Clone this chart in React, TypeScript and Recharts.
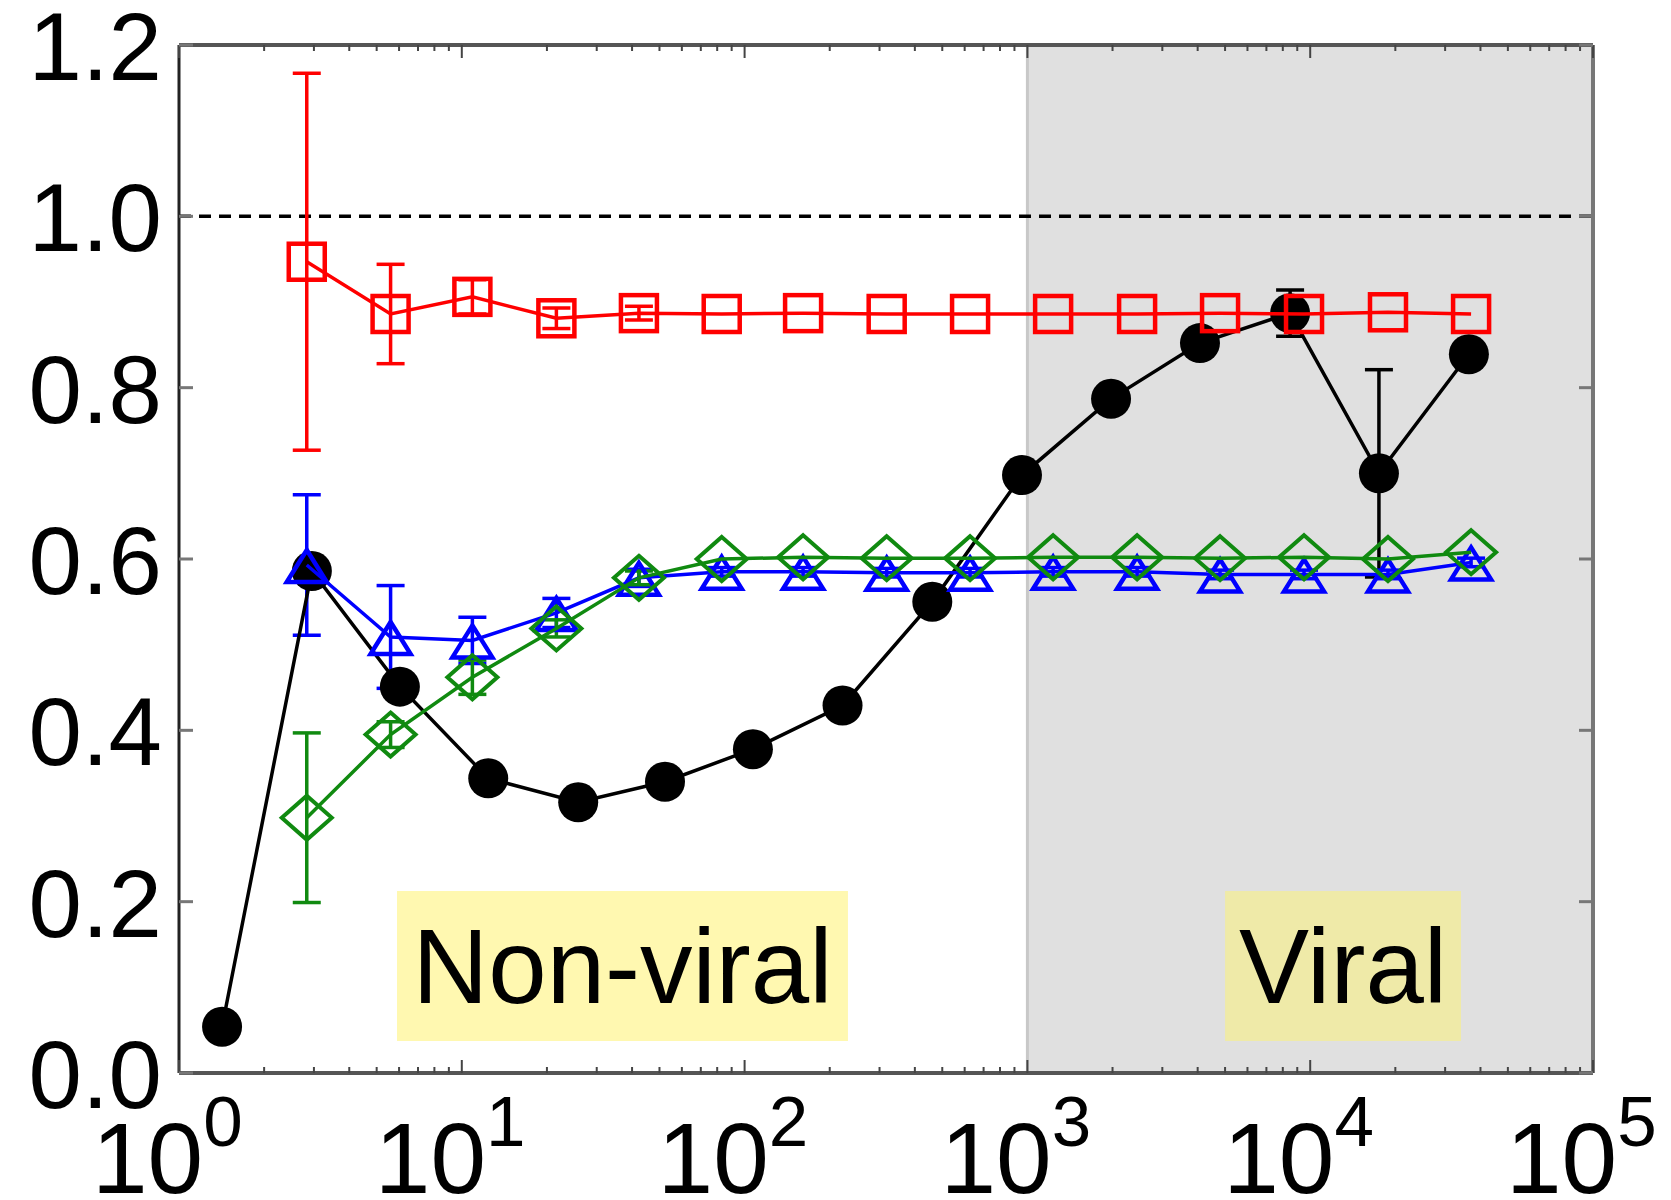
import React from 'react';
import {
  ComposedChart,
  Scatter,
  XAxis,
  YAxis,
  ErrorBar,
  ReferenceArea,
  ReferenceLine,
} from 'recharts';

// ---- data ----
const blackX = [1.42, 2.95, 6.04, 12.4, 25.8, 52.3, 107, 222, 461, 957, 1976, 4076, 8490, 17500, 36400];
const blackY = [0.054, 0.586, 0.451, 0.344, 0.316, 0.340, 0.378, 0.429, 0.550, 0.698, 0.787, 0.852, 0.887, 0.700, 0.839];
const blackErr = [0, 0, 0, 0, 0, 0, 0, 0, 0, 0, 0, 0, 0.027, 0.121, 0];

const colX = [2.83, 5.6, 10.9, 21.6, 42.3, 83, 161, 318, 627, 1233, 2443, 4800, 9510, 18840, 37060];
const redY = [0.947, 0.886, 0.906, 0.881, 0.887, 0.886, 0.887, 0.886, 0.886, 0.886, 0.886, 0.887, 0.886, 0.888, 0.886];
const redErr = [0.22, 0.058, 0.02, 0.012, 0.008, 0, 0, 0, 0, 0, 0, 0, 0, 0, 0];
const blueY = [0.593, 0.509, 0.505, 0.537, 0.578, 0.585, 0.585, 0.584, 0.584, 0.585, 0.585, 0.582, 0.582, 0.582, 0.596];
const blueErr = [0.082, 0.06, 0.027, 0.017, 0.01, 0.005, 0.005, 0.005, 0.005, 0.005, 0.005, 0.005, 0.005, 0.005, 0.005];
const greenY = [0.298, 0.395, 0.462, 0.519, 0.578, 0.600, 0.602, 0.601, 0.601, 0.602, 0.602, 0.601, 0.602, 0.600, 0.608];
const greenErr = [0.099, 0.015, 0.02, 0.01, 0.008, 0, 0, 0, 0, 0, 0, 0, 0, 0, 0];

const xMajorTicks = [1, 10, 100, 1000, 10000, 100000];
const xTickExponents = ['0', '1', '2', '3', '4', '5'];
const xMinorMultipliers = [2, 3, 4, 5, 6, 7, 8, 9];
const yTicks = [0, 0.2, 0.4, 0.6, 0.8, 1.0, 1.2];
const yTickLabels = ['0.0', '0.2', '0.4', '0.6', '0.8', '1.0', '1.2'];

const regionLabels = [
  { text: 'Non-viral', x1: 5.9, x2: 232, y1: 0.0374, y2: 0.2124, fill: '#FFF8B0' },
  { text: 'Viral', x1: 5000, x2: 34140, y1: 0.0374, y2: 0.2124, fill: '#EFEAA8' },
];

const xAllTicks: number[] = [];
xMajorTicks.forEach((m, i) => {
  xAllTicks.push(m);
  if (i < xMajorTicks.length - 1) xMinorMultipliers.forEach((k) => xAllTicks.push(m * k));
});

const toPoints = (xs: number[], ys: number[], es: number[]) =>
  xs.map((x, i) => ({ x, y: ys[i], e: es[i] }));

const blackData = toPoints(blackX, blackY, blackErr);
const redData = toPoints(colX, redY, redErr);
const blueData = toPoints(colX, blueY, blueErr);
const greenData = toPoints(colX, greenY, greenErr);

const FONT = '"Liberation Sans", Arial, Helvetica, sans-serif';

// ---- ticks ----
const BottomTick = (props: any) => {
  const { x, y, payload } = props;
  const idx = xMajorTicks.indexOf(payload.value);
  const major = idx >= 0;
  return (
    <g>
      <line x1={x} x2={x} y1={y} y2={y - (major ? 13 : 6)} stroke="#444" strokeWidth={2} />
      {major && (
        <text x={x - 87} y={y + 120} fontSize={100} fontFamily={FONT} fill="#000" textAnchor="start">
          10
          <tspan dy={-47} fontSize={71}>
            {xTickExponents[idx]}
          </tspan>
        </text>
      )}
    </g>
  );
};

const TopTick = (props: any) => {
  const { x, y, payload } = props;
  const major = xMajorTicks.indexOf(payload.value) >= 0;
  return <line x1={x} x2={x} y1={y} y2={y + (major ? 13 : 6)} stroke="#444" strokeWidth={2} />;
};

const LeftTick = (props: any) => {
  const { x, y, payload } = props;
  const idx = yTicks.indexOf(payload.value);
  return (
    <g>
      <line x1={x} x2={x + 14} y1={y} y2={y} stroke="#777" strokeWidth={3} />
      <text x={x - 17} y={y + 35} fontSize={96} fontFamily={FONT} fill="#000" textAnchor="end">
        {yTickLabels[idx]}
      </text>
    </g>
  );
};

const RightTick = (props: any) => {
  const { x, y } = props;
  return <line x1={x} x2={x - 14} y1={y} y2={y} stroke="#777" strokeWidth={3} />;
};

// ---- markers ----
const Circle = (p: any) => <circle cx={p.cx} cy={p.cy} r={20} fill="#000" />;
const Square = (p: any) => (
  <rect x={p.cx - 18} y={p.cy - 18} width={36} height={36} fill="none" stroke="#ff0000" strokeWidth={4.5} />
);
const Triangle = (p: any) => (
  <polygon
    points={`${p.cx},${p.cy - 15} ${p.cx + 20},${p.cy + 17} ${p.cx - 20},${p.cy + 17}`}
    fill="none"
    stroke="#0000ff"
    strokeWidth={4.5}
  />
);
const Diamond = (p: any) => (
  <polygon
    points={`${p.cx},${p.cy - 22} ${p.cx + 25},${p.cy} ${p.cx},${p.cy + 22} ${p.cx - 25},${p.cy}`}
    fill="none"
    stroke="#108a10"
    strokeWidth={4}
  />
);
const NoShape = () => null;

export default function App() {
  return (
    <div style={{ position: 'absolute', left: 0, top: 0, background: '#fff' }}>
      <ComposedChart width={1671} height={1200} margin={{ top: 44, right: 77, left: 0, bottom: 0 }}>
        <ReferenceArea x1={1000} x2={100000} y1={0} y2={1.2} fill="#e0e0e0" fillOpacity={1} stroke="none" />
        <ReferenceLine x={1000} stroke="#c8c8c8" strokeWidth={3} />
        {regionLabels.map((r) => (
          <ReferenceArea
            key={r.text}
            x1={r.x1}
            x2={r.x2}
            y1={r.y1}
            y2={r.y2}
            fill={r.fill}
            fillOpacity={1}
            stroke="none"
            label={{ value: r.text, position: 'center', fontSize: 105, fill: '#000', fontFamily: FONT }}
          />
        ))}
        <ReferenceLine y={1} stroke="#000" strokeWidth={3.5} strokeDasharray="12 8" />

        <XAxis
          type="number"
          dataKey="x"
          scale="log"
          domain={[1, 100000]}
          allowDataOverflow
          ticks={xAllTicks}
          interval={0}
          tick={<BottomTick />}
          tickLine={false}
          tickSize={0}
          tickMargin={0}
          height={127}
          axisLine={{ stroke: '#555', strokeWidth: 4 }}
        />
        <XAxis
          xAxisId="top"
          orientation="top"
          type="number"
          dataKey="x"
          scale="log"
          domain={[1, 100000]}
          allowDataOverflow
          ticks={xAllTicks}
          interval={0}
          tick={<TopTick />}
          tickLine={false}
          tickSize={0}
          tickMargin={0}
          height={1}
          axisLine={{ stroke: '#555', strokeWidth: 4 }}
        />
        <YAxis
          type="number"
          dataKey="y"
          domain={[0, 1.2]}
          allowDataOverflow
          ticks={yTicks}
          interval={0}
          tick={<LeftTick />}
          tickLine={false}
          tickSize={0}
          tickMargin={0}
          width={179}
          axisLine={{ stroke: '#222', strokeWidth: 3 }}
        />
        <YAxis
          yAxisId="right"
          orientation="right"
          type="number"
          dataKey="y"
          domain={[0, 1.2]}
          allowDataOverflow
          ticks={yTicks}
          interval={0}
          tick={<RightTick />}
          tickLine={false}
          tickSize={0}
          tickMargin={0}
          width={1}
          axisLine={{ stroke: '#777', strokeWidth: 4 }}
        />

        <Scatter
          data={redData}
          xAxisId="top"
          yAxisId="right"
          isAnimationActive={false}
          shape={NoShape}
          legendType="none"
        />

        <Scatter data={blackData} isAnimationActive={false} line={{ stroke: '#000', strokeWidth: 3.5 }} shape={Circle}>
          <ErrorBar dataKey="e" direction="y" width={14} stroke="#000" strokeWidth={3.5} />
        </Scatter>
        <Scatter data={blueData} isAnimationActive={false} line={{ stroke: '#0000ff', strokeWidth: 3.5 }} shape={Triangle}>
          <ErrorBar dataKey="e" direction="y" width={14} stroke="#0000ff" strokeWidth={3.5} />
        </Scatter>
        <Scatter data={greenData} isAnimationActive={false} line={{ stroke: '#108a10', strokeWidth: 3.5 }} shape={Diamond}>
          <ErrorBar dataKey="e" direction="y" width={14} stroke="#108a10" strokeWidth={3.5} />
        </Scatter>
        <Scatter data={redData} isAnimationActive={false} line={{ stroke: '#ff0000', strokeWidth: 3.5 }} shape={Square}>
          <ErrorBar dataKey="e" direction="y" width={14} stroke="#ff0000" strokeWidth={3.5} />
        </Scatter>
      </ComposedChart>
    </div>
  );
}
